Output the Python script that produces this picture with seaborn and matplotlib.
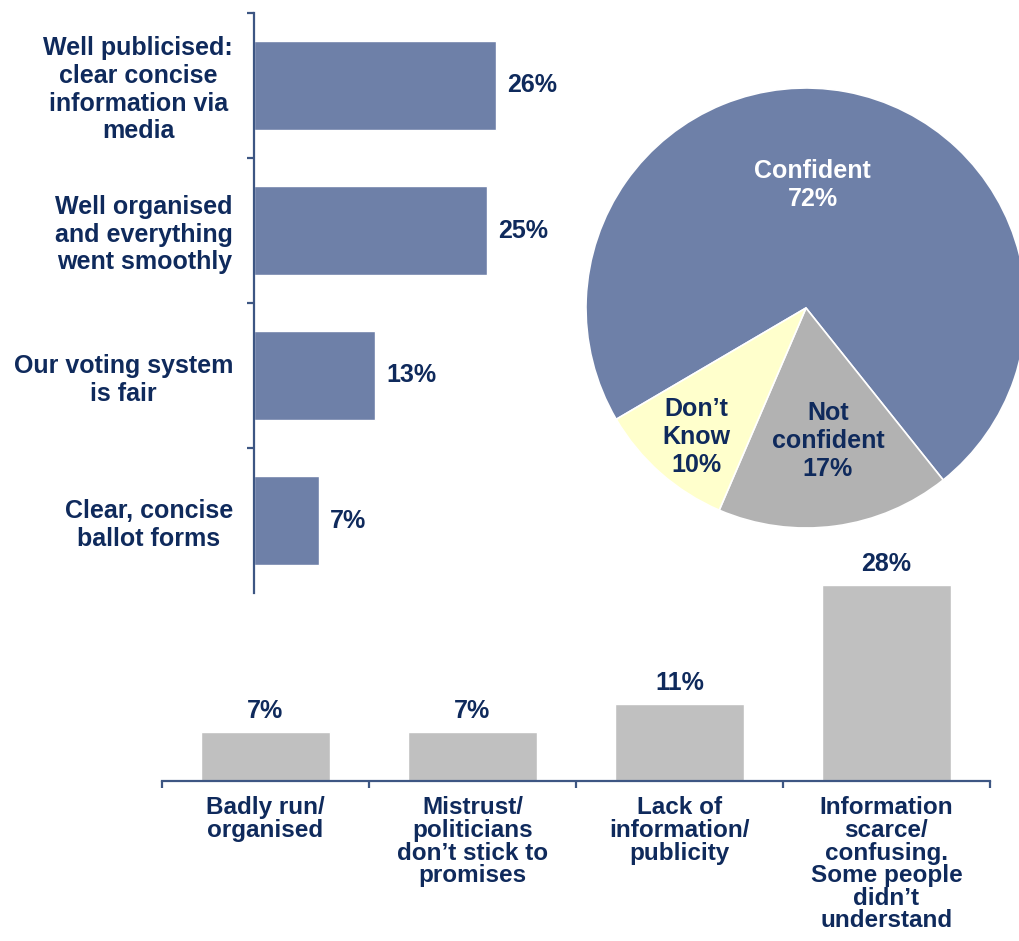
import matplotlib
matplotlib.use("Agg")
import matplotlib.pyplot as plt
import seaborn as sns
import numpy as np
import pandas as pd

sns.set_theme(style="white")
plt.rcParams["font.family"] = ["Liberation Sans", "DejaVu Sans"]
plt.rcParams["font.weight"] = "bold"

NAVY = "#0F2A5C"
AXIS = "#3D5683"
BLUE = "#6E80A8"
GREY_BAR = "#C0C0C0"
GREY_PIE = "#B2B2B2"
YELLOW = "#FFFFCC"

# Reasons for confidence (horizontal bars)
good_reasons = [
    "Well publicised:\nclear concise\ninformation via\nmedia",
    "Well organised\nand everything\nwent smoothly",
    "Our voting system\nis fair",
    "Clear, concise\nballot forms",
]
good_values = [26, 25, 13, 7]

# Overall confidence (pie)
conf_labels = ["Confident\n72%", "Not\nconfident\n17%", "Don\u2019t\nKnow\n10%"]
conf_values = [72, 17, 10]

# Reasons for lack of confidence (vertical bars)
bad_reasons = [
    "Badly run/\norganised",
    "Mistrust/\npoliticians\ndon\u2019t stick to\npromises",
    "Lack of\ninformation/\npublicity",
    "Information\nscarce/\nconfusing.\nSome people\ndidn\u2019t\nunderstand",
]
bad_values = [7, 7, 11, 28]

W, H = 1020, 941
fig = plt.figure(figsize=(W / 100, H / 100), dpi=100)
fig.patch.set_facecolor("white")


def fig_rect(x0, y0, x1, y1):
    return [x0 / W, 1 - y1 / H, (x1 - x0) / W, (y1 - y0) / H]


# ---------- horizontal bar chart ----------
ax1 = fig.add_axes(fig_rect(254, 13, 600, 593))
ax1.patch.set_alpha(0)
df1 = pd.DataFrame({"reason": good_reasons, "value": good_values})
sns.barplot(data=df1, x="value", y="reason", orient="h", color=BLUE,
            saturation=1, width=0.62, ax=ax1)
ax1.set_xlim(0, 346 / 9.3)
ax1.set_ylim(3.5, -0.5)
for s in ["top", "right", "bottom"]:
    ax1.spines[s].set_visible(False)
ax1.spines["left"].set_color(AXIS)
ax1.spines["left"].set_linewidth(1.6)
ax1.set_xticks([])
ax1.set_xlabel("")
ax1.set_ylabel("")
ax1.set_yticks(range(len(good_reasons)))
ax1.set_yticklabels(good_reasons, fontsize=18, fontweight="bold", color=NAVY,
                    ha="right", multialignment="center", linespacing=1.19)
ax1.tick_params(axis="y", which="major", length=0, pad=15)
ax1.set_yticks([-0.5, 0.5, 1.5, 2.5], minor=True)
ax1.tick_params(axis="y", which="minor", length=5, width=1.6, color=AXIS, left=True)
for i, v in enumerate(good_values):
    ax1.text(v + 1.2, i, f"{v}%", va="center", ha="left", fontsize=18,
             fontweight="bold", color=NAVY)

# ---------- pie chart ----------
r_px = 220
pad_px = 230
cx, cy = 806, 308
axp = fig.add_axes(fig_rect(cx - pad_px, cy - pad_px, cx + pad_px, cy + pad_px))
axp.pie(conf_values, colors=[BLUE, GREY_PIE, YELLOW], startangle=210.4,
        counterclock=False, radius=1,
        wedgeprops=dict(edgecolor="white", linewidth=1.2))
lim = pad_px / r_px
axp.set_xlim(-lim, lim)
axp.set_ylim(-lim, lim)
axp.set_aspect("equal")
axp.axis("off")
label_pos = [(0.03, 0.56), (0.10, -0.605), (-0.50, -0.585)]
label_col = ["white", NAVY, NAVY]
for txt, (x, y), c in zip(conf_labels, label_pos, label_col):
    axp.text(x, y, txt, ha="center", va="center", fontsize=18,
             fontweight="bold", color=c, linespacing=1.22)

# ---------- vertical bar chart ----------
ax2 = fig.add_axes(fig_rect(162, 781 - 30 * 7, 990, 781))
ax2.patch.set_alpha(0)
df2 = pd.DataFrame({"reason": bad_reasons, "value": bad_values})
sns.barplot(data=df2, x="reason", y="value", color=GREY_BAR, saturation=1,
            width=0.62, ax=ax2)
ax2.set_ylim(0, 30)
ax2.set_xlim(-0.5, 3.5)
for s in ["top", "right", "left"]:
    ax2.spines[s].set_visible(False)
ax2.spines["bottom"].set_color(AXIS)
ax2.spines["bottom"].set_linewidth(1.6)
ax2.set_yticks([])
ax2.set_xlabel("")
ax2.set_ylabel("")
ax2.set_xticks(range(len(bad_reasons)))
ax2.set_xticklabels(bad_reasons, fontsize=17.5, fontweight="bold", color=NAVY,
                    va="top", ha="center", multialignment="center",
                    linespacing=0.98)
ax2.tick_params(axis="x", which="major", length=0, pad=11)
ax2.set_xticks([-0.5, 0.5, 1.5, 2.5, 3.5], minor=True)
ax2.tick_params(axis="x", which="minor", length=5, width=1.6, color=AXIS,
                bottom=True)
for i, v in enumerate(bad_values):
    ax2.text(i, v + 3.0, f"{v}%", ha="center", va="center", fontsize=18,
             fontweight="bold", color=NAVY)

fig.savefig("out.png", dpi=100, facecolor="white")
